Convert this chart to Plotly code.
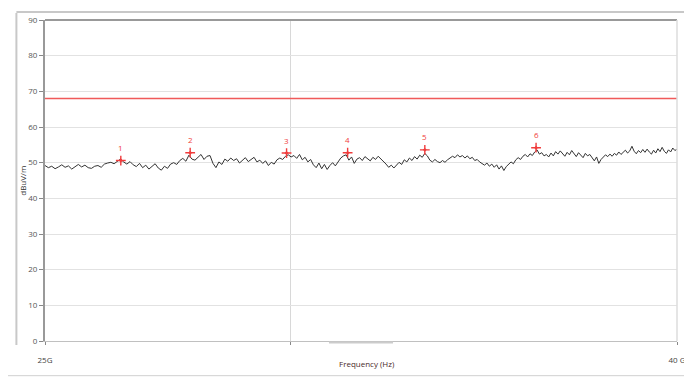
import numpy as np
import plotly.graph_objects as go

# ---------------- data ----------------
f_start_hz = 25e9
f_stop_hz = 40e9
n_points = 240

trace_dbuv = [
    49.2, 48.6, 49.0, 48.3, 48.8, 49.4, 48.7, 49.1, 48.2, 48.9, 49.5, 48.8, 49.3, 48.6, 48.4, 49.0, 49.2, 48.7, 49.6, 49.9,
    50.1, 49.7, 50.4, 51.0, 50.2, 49.6, 50.3, 49.4, 48.9, 49.8, 48.6, 49.3, 48.2, 49.1, 49.7, 48.5, 47.9, 49.0, 48.4, 49.6,
    50.0, 49.5, 50.6, 51.2, 50.4, 52.1, 51.0, 50.7, 51.5, 52.3, 50.9, 51.8, 52.0, 49.8, 48.6, 50.2, 49.5, 51.0, 50.4, 51.3,
    50.6, 51.1, 49.9, 50.8, 51.4, 50.3, 50.9, 51.5, 50.2, 50.7, 49.8, 50.5, 49.2, 50.1, 49.6, 50.8, 51.3, 50.9, 51.8, 52.2,
    51.6, 52.0, 51.2, 52.3, 50.8, 51.5, 50.2, 50.9, 49.4, 48.6, 49.9, 48.3, 49.5, 48.1, 49.2, 50.0, 49.1, 50.4, 51.3, 51.9,
    52.2, 50.7, 51.6, 49.8, 51.0, 51.4, 50.6, 51.7, 51.2, 50.5, 51.5, 50.9, 51.8, 51.1, 50.4, 49.6, 48.7, 49.3, 48.5, 49.4,
    50.1, 49.5, 50.8, 50.2, 51.3, 50.6, 51.7, 51.0, 52.1, 51.5, 52.6, 51.9, 50.7, 50.2, 50.9, 50.3, 50.0, 50.6, 50.1, 50.8,
    51.2, 51.8, 51.4, 52.2, 51.6, 52.0, 51.3, 51.9, 51.1, 51.5, 50.6, 50.9, 50.2, 49.8, 49.3, 49.9, 49.0, 49.6, 48.7, 49.4,
    48.2, 49.1, 47.8, 48.9, 49.5, 50.2, 49.7, 50.8, 51.4, 50.9, 51.8, 52.3, 51.6, 52.5, 52.0, 53.0, 53.6, 52.4, 52.8, 51.9,
    52.3, 51.6, 52.7, 51.9, 53.1, 52.4, 53.3, 52.6, 51.8, 52.9, 52.2, 53.4, 52.5, 51.7, 52.8, 52.0, 51.4, 52.6, 51.9, 52.3,
    51.3, 50.5, 51.6, 49.8, 50.9, 51.5, 52.2, 51.7, 52.4, 51.8, 52.6, 52.1, 53.0, 52.3, 52.9, 53.5, 52.7, 53.3, 54.6, 53.2,
    52.5, 53.4, 52.8, 53.7, 52.9, 53.8, 53.0, 52.4, 53.5, 52.7, 53.9, 53.1, 54.3, 53.2, 52.6, 53.6, 53.0, 54.1, 53.4, 53.8,
]

limit_dbuv = 68

marker_labels = ["1", "2", "3", "4", "5", "6"]
marker_freq_ghz = [26.45, 27.85, 29.92, 31.31, 33.16, 36.02]
marker_dbuv = [50.6, 52.8, 52.7, 52.8, 53.6, 54.2]

x_tick_vals_ghz = [25, 30, 40]
x_tick_text = ["25G", "", "40 G"]
y_tick_vals = [0, 10, 20, 30, 40, 50, 60, 70, 80, 90]

# ---------------- figure ----------------
freqs = np.linspace(f_start_hz, f_stop_hz, n_points)
marker_freq_hz = [m * 1e9 for m in marker_freq_ghz]

FONT = "Open Sans, DejaVu Sans, sans-serif"
RED = "#f03c3c"
fig = go.Figure()

fig.add_trace(go.Scatter(
    x=[f_start_hz, f_stop_hz], y=[limit_dbuv, limit_dbuv], mode="lines",
    line=dict(color="#f05a5a", width=1.5), hoverinfo="skip", showlegend=False))

fig.add_trace(go.Scatter(
    x=freqs, y=trace_dbuv, mode="lines",
    line=dict(color="#333333", width=1), showlegend=False))

fig.add_trace(go.Scatter(
    x=marker_freq_hz, y=marker_dbuv, mode="markers",
    marker=dict(symbol="cross-thin", size=7, line=dict(color=RED, width=1.4)),
    showlegend=False))
fig.add_trace(go.Scatter(
    x=marker_freq_hz, y=marker_dbuv, mode="markers",
    marker=dict(symbol="diamond", size=3, color=RED),
    showlegend=False))

for lab, fx, fy in zip(marker_labels, marker_freq_hz, marker_dbuv):
    fig.add_annotation(x=np.log10(fx), y=fy, text=lab, showarrow=False,
                       yshift=13, font=dict(size=8, color=RED, family=FONT))

# axis titles
fig.add_annotation(xref="paper", yref="paper", x=-0.036, xanchor="center",
                   y=0.5, yanchor="middle", text="dBuV/m",
                   textangle=-90, showarrow=False,
                   font=dict(size=8, color="#333", family=FONT))
fig.add_annotation(xref="paper", yref="paper", x=0.51, y=-0.07, yanchor="middle",
                   text="Frequency (Hz)", showarrow=False,
                   font=dict(size=8, color="#4a2a2a", family=FONT))

# frame decorations (paper coords, from window pixels)
def px2x(px):
    return (px - 45) / 641.0

def py2y(py):
    return (341 - py) / 324.0

shapes = [
    dict(type="line", xref="paper", yref="paper", x0=px2x(16), x1=px2x(16),
         y0=py2y(10), y1=py2y(345), line=dict(color="#c8c8c8", width=2)),
    dict(type="line", xref="paper", yref="paper", x0=px2x(16), x1=px2x(700),
         y0=py2y(9), y1=py2y(9), line=dict(color="#c8c8c8", width=2)),
    dict(type="line", xref="paper", yref="paper", x0=px2x(0), x1=px2x(700),
         y0=py2y(376), y1=py2y(376), line=dict(color="#d0d0d0", width=1)),
    dict(type="line", xref="paper", yref="paper", x0=px2x(333), x1=px2x(398),
         y0=py2y(342.5), y1=py2y(342.5), line=dict(color="#cccccc", width=2)),
    dict(type="line", xref="paper", yref="paper", x0=0, x1=1, y0=1, y1=1,
         line=dict(color="#999999", width=2)),
    dict(type="line", xref="paper", yref="paper", x0=1, x1=1, y0=0, y1=1,
         line=dict(color="#dddddd", width=1.5)),
]

# page body has an 8px margin, so the figure is shifted by 8px
fig.update_layout(
    width=684, height=369,
    margin=dict(l=37, r=6, t=9, b=36),
    paper_bgcolor="white", plot_bgcolor="white",
    font=dict(family=FONT, size=8, color="#555"),
    shapes=shapes,
    xaxis=dict(
        type="log",
        range=[np.log10(f_start_hz), np.log10(f_stop_hz)],
        tickvals=[v * 1e9 for v in x_tick_vals_ghz], ticktext=x_tick_text,
        showgrid=True, gridcolor="#d8d8d8", gridwidth=1,
        ticks="outside", ticklen=3, tickcolor="#888",
        ticklabelstandoff=8, ticklabeloverflow="allow",
        showline=True, linecolor="#c0c0c0", linewidth=1,
        zeroline=False, tickfont=dict(size=8, color="#444"),
    ),
    yaxis=dict(
        range=[0, 90], tickvals=y_tick_vals,
        showgrid=True, gridcolor="#e2e2e2", gridwidth=1,
        ticks="outside", ticklen=4, tickcolor="#888",
        showline=True, linecolor="#999999", linewidth=2,
        zeroline=False, tickfont=dict(size=8, color="#555"),
    ),
)

fig.write_html("out.html")
